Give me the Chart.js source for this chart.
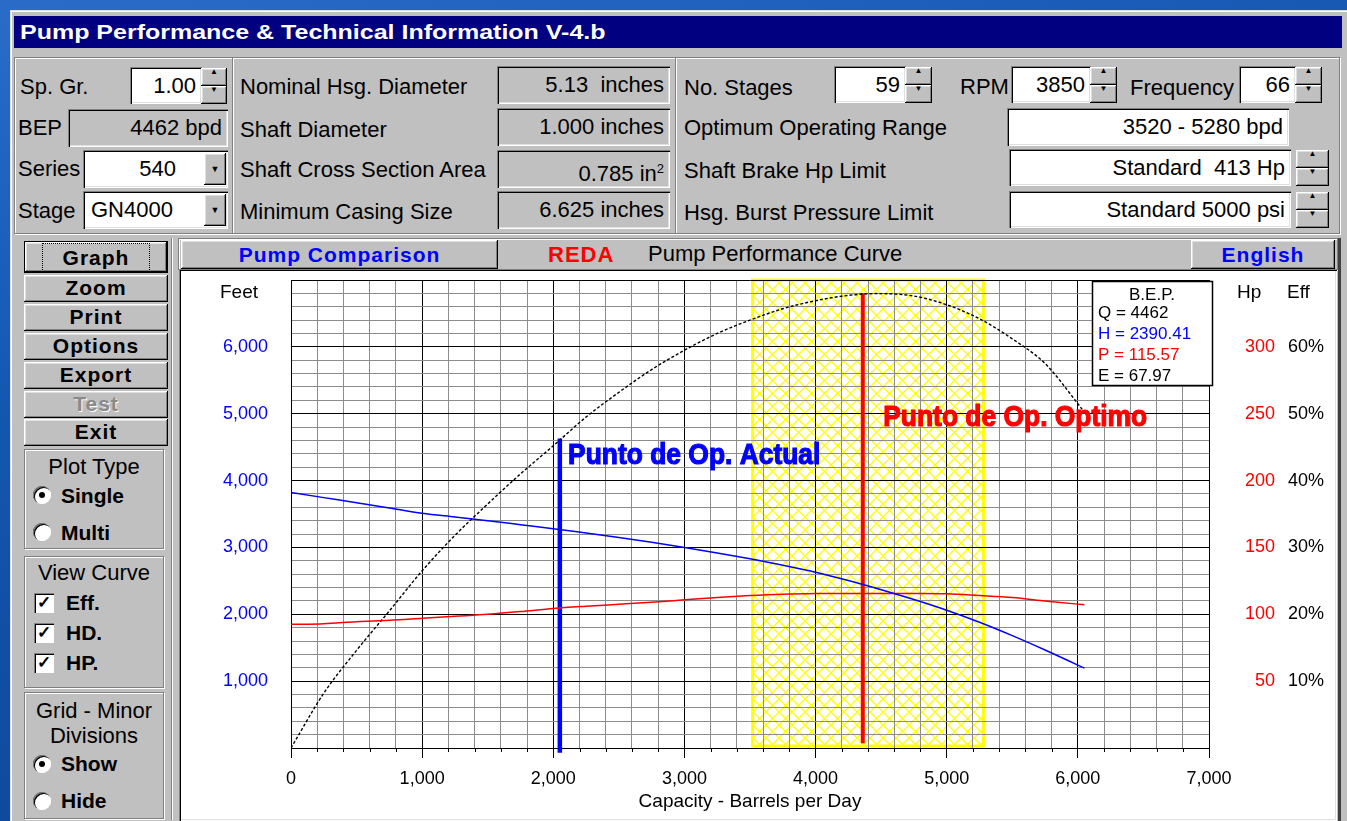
<!DOCTYPE html>
<html>
<head>
<meta charset="utf-8">
<script src="https://cdn.jsdelivr.net/npm/chart.js@4.4.0/dist/chart.umd.min.js"></script>
<style>
body{margin:0;width:1347px;height:821px;overflow:hidden;position:relative;
  background:linear-gradient(165deg,#2a6cc8 0%,#1456b0 35%,#0b3f8c 100%);
  font-family:Arial,"Liberation Sans",sans-serif;}
.a{position:absolute;box-sizing:border-box;white-space:nowrap}
.win{left:10px;top:10px;width:1337px;height:811px;background:#c0c0c0;
  box-shadow:inset 1px 1px #dfdfdf,inset 2px 2px #fff}
.title{left:14px;top:16px;width:1328px;height:32px;background:#000080}
.etch{border:1px solid #808080;box-shadow:1px 1px #fff,inset 1px 1px #fff}
.lbl{font-size:22px;line-height:24px;color:#000}
.fld{background:#fff;font-size:22px;text-align:right;padding-right:6px;
  box-shadow:inset 1px 1px #808080,inset 2px 2px #000,inset -1px -1px #fff,inset -2px -2px #dfdfdf}
.fld.g{background:#c0c0c0}
.btn{background:#c0c0c0;
  box-shadow:inset -1px -1px #000,inset 1px 1px #fff,inset -2px -2px #808080,inset 2px 2px #dfdfdf}
.spin div{position:absolute;left:0;width:100%;height:50%;font-size:8px;line-height:100%;text-align:center;box-sizing:border-box}
.lb{font-weight:bold;font-size:21px;letter-spacing:1px;text-align:center;line-height:26px}
.radio{width:18px;height:18px;border-radius:50%;background:#fff;
  box-shadow:inset 1px 1px #808080,inset 2px 2px #000,inset -1px -1px #fff}
.radio.on::after{content:"";position:absolute;left:6px;top:6px;width:6px;height:6px;border-radius:50%;background:#000}
.chk{width:20px;height:20px;background:#fff;font-size:17px;line-height:20px;text-align:center;font-weight:bold;
  box-shadow:inset 1px 1px #808080,inset 2px 2px #000,inset -1px -1px #fff}
.bt{font-weight:bold;font-size:21px;line-height:24px}
</style>
</head>
<body>
<div class="a win"></div>
<div class="a title"></div>
<div class="a" style="left:20px;top:19px;color:#fff;font-weight:bold;font-size:21px;line-height:26px;transform:scaleX(1.19);transform-origin:left">Pump Performance &amp; Technical Information V-4.b</div>

<!-- top group -->
<div class="a etch" style="left:14px;top:57px;width:1326px;height:177px"></div>
<div class="a" style="left:232px;top:58px;width:2px;height:175px;border-left:1px solid #808080;border-right:1px solid #fff"></div>
<div class="a" style="left:675px;top:58px;width:2px;height:175px;border-left:1px solid #808080;border-right:1px solid #fff"></div>

<div class="a lbl" style="left:20px;top:75px">Sp. Gr.</div>
<div class="a fld" style="left:130px;top:67px;width:72px;height:37px;line-height:37px">1.00</div>
<div class="a spin" style="left:201px;top:68px;width:26px;height:36px"><div class="btn" style="top:0">&#9650;</div><div class="btn" style="top:50%">&#9660;</div></div>
<div class="a lbl" style="left:18px;top:116px">BEP</div>
<div class="a fld g" style="left:68px;top:109px;width:160px;height:38px;line-height:38px">4462 bpd</div>
<div class="a lbl" style="left:18px;top:157px">Series</div>
<div class="a fld" style="left:83px;top:150px;width:145px;height:38px;line-height:38px;padding-right:52px">540</div>
<div class="a btn" style="left:204px;top:153px;width:22px;height:32px;font-size:9px;line-height:32px;text-align:center">&#9660;</div>
<div class="a lbl" style="left:18px;top:199px">Stage</div>
<div class="a fld" style="left:83px;top:191px;width:145px;height:38px;line-height:38px;text-align:left;padding-left:8px">GN4000</div>
<div class="a btn" style="left:204px;top:194px;width:22px;height:32px;font-size:9px;line-height:32px;text-align:center">&#9660;</div>

<div class="a lbl" style="left:240px;top:75px">Nominal Hsg. Diameter</div>
<div class="a fld g" style="left:497px;top:66px;width:173px;height:38px;line-height:38px">5.13&nbsp; inches</div>
<div class="a lbl" style="left:240px;top:118px">Shaft Diameter</div>
<div class="a fld g" style="left:497px;top:108px;width:173px;height:38px;line-height:38px">1.000 inches</div>
<div class="a lbl" style="left:240px;top:158px">Shaft Cross Section Area</div>
<div class="a fld g" style="left:497px;top:150px;width:173px;height:38px;line-height:38px">0.785 in<sup style="font-size:13px">2</sup></div>
<div class="a lbl" style="left:240px;top:200px">Minimum Casing Size</div>
<div class="a fld g" style="left:497px;top:191px;width:173px;height:38px;line-height:38px">6.625 inches</div>

<div class="a lbl" style="left:684px;top:76px">No. Stages</div>
<div class="a fld" style="left:834px;top:66px;width:72px;height:37px;line-height:37px">59</div>
<div class="a spin" style="left:905px;top:67px;width:27px;height:36px"><div class="btn" style="top:0">&#9650;</div><div class="btn" style="top:50%">&#9660;</div></div>
<div class="a lbl" style="left:960px;top:75px">RPM</div>
<div class="a fld" style="left:1011px;top:66px;width:80px;height:37px;line-height:37px">3850</div>
<div class="a spin" style="left:1090px;top:67px;width:27px;height:36px"><div class="btn" style="top:0">&#9650;</div><div class="btn" style="top:50%">&#9660;</div></div>
<div class="a lbl" style="left:1130px;top:76px">Frequency</div>
<div class="a fld" style="left:1239px;top:66px;width:57px;height:37px;line-height:37px">66</div>
<div class="a spin" style="left:1295px;top:67px;width:27px;height:36px"><div class="btn" style="top:0">&#9650;</div><div class="btn" style="top:50%">&#9660;</div></div>

<div class="a lbl" style="left:684px;top:116px">Optimum Operating Range</div>
<div class="a fld" style="left:1007px;top:108px;width:282px;height:38px;line-height:38px">3520 - 5280 bpd</div>
<div class="a lbl" style="left:684px;top:159px">Shaft Brake Hp Limit</div>
<div class="a fld" style="left:1009px;top:149px;width:282px;height:37px;line-height:37px">Standard&nbsp; 413 Hp</div>
<div class="a spin" style="left:1296px;top:150px;width:33px;height:36px"><div class="btn" style="top:0">&#9650;</div><div class="btn" style="top:50%">&#9660;</div></div>
<div class="a lbl" style="left:684px;top:201px">Hsg. Burst Pressure Limit</div>
<div class="a fld" style="left:1009px;top:191px;width:282px;height:37px;line-height:37px">Standard 5000 psi</div>
<div class="a spin" style="left:1296px;top:192px;width:33px;height:36px"><div class="btn" style="top:0">&#9650;</div><div class="btn" style="top:50%">&#9660;</div></div>

<!-- left column -->
<div class="a" style="left:20px;top:238px;width:152px;height:582px;border-right:1px solid #808080;box-shadow:1px 0 #fff"></div>
<div class="a btn lb" style="left:24px;top:241px;width:144px;height:32px;line-height:32px;border:1px solid #000"><span style="outline:1px dotted #000;outline-offset:2px;padding:0 18px">Graph</span></div>
<div class="a btn lb" style="left:24px;top:275px;width:144px;height:27px">Zoom</div>
<div class="a btn lb" style="left:24px;top:304px;width:144px;height:27px">Print</div>
<div class="a btn lb" style="left:24px;top:333px;width:144px;height:27px">Options</div>
<div class="a btn lb" style="left:24px;top:362px;width:144px;height:27px">Export</div>
<div class="a btn lb" style="left:24px;top:391px;width:144px;height:27px;color:#8a8a8a;text-shadow:1px 1px #fff">Test</div>
<div class="a btn lb" style="left:24px;top:419px;width:144px;height:27px">Exit</div>

<div class="a etch" style="left:24px;top:449px;width:140px;height:100px"></div>
<div class="a lbl" style="left:24px;top:455px;width:140px;text-align:center">Plot Type</div>
<div class="a radio on" style="left:33px;top:486px"></div><div class="a bt" style="left:61px;top:484px">Single</div>
<div class="a radio" style="left:33px;top:523px"></div><div class="a bt" style="left:61px;top:521px">Multi</div>

<div class="a etch" style="left:24px;top:556px;width:140px;height:132px"></div>
<div class="a lbl" style="left:24px;top:561px;width:140px;text-align:center">View Curve</div>
<div class="a chk" style="left:34px;top:593px">&#10003;</div><div class="a bt" style="left:66px;top:591px">Eff.</div>
<div class="a chk" style="left:34px;top:623px">&#10003;</div><div class="a bt" style="left:66px;top:621px">HD.</div>
<div class="a chk" style="left:34px;top:653px">&#10003;</div><div class="a bt" style="left:66px;top:651px">HP.</div>

<div class="a etch" style="left:24px;top:692px;width:140px;height:127px"></div>
<div class="a lbl" style="left:24px;top:699px;width:140px;text-align:center">Grid - Minor</div>
<div class="a lbl" style="left:24px;top:724px;width:140px;text-align:center">Divisions</div>
<div class="a radio on" style="left:33px;top:755px"></div><div class="a bt" style="left:61px;top:752px">Show</div>
<div class="a radio" style="left:33px;top:792px"></div><div class="a bt" style="left:61px;top:789px">Hide</div>

<!-- header bar -->
<div class="a etch" style="left:178px;top:238px;width:1160px;height:32px"></div>
<div class="a btn" style="left:181px;top:240px;width:317px;height:29px;color:#0000ff;font-weight:bold;font-size:21px;letter-spacing:1px;line-height:29px;text-align:center">Pump Comparison</div>
<div class="a" style="left:548px;top:242px;color:#ff0000;font-weight:bold;font-size:22px;letter-spacing:1px;line-height:26px">REDA</div>
<div class="a lbl" style="left:648px;top:242px">Pump Performance Curve</div>
<div class="a btn" style="left:1191px;top:240px;width:144px;height:29px;color:#0000ff;font-weight:bold;font-size:21px;letter-spacing:1px;line-height:29px;text-align:center">English</div>

<!-- chart frame -->
<div class="a" style="left:179px;top:269px;width:1158px;height:552px;background:#fff;
  box-shadow:inset 1px 1px #808080,inset 2px 2px #000,inset -1px -1px #fff,inset -2px -2px #dfdfdf"></div>
<div class="a" style="left:1338px;top:238px;width:3px;height:583px;background:#404040"></div>
<canvas id="pump" class="a" width="1152" height="548" style="left:181px;top:270px"></canvas>

<script>
// pump curve (capacity in barrels per day)
const capacityBpd = [0, 250, 500, 750, 1000, 1250, 1500, 1750, 2000, 2250, 2500, 2750, 3000,
  3250, 3500, 3750, 4000, 4250, 4462, 4750, 5000, 5250, 5500, 5750, 6000, 6050];
const headFt = [3820, 3745, 3670, 3590, 3510, 3455, 3400, 3340, 3280, 3215, 3150, 3078, 3000,
  2918, 2830, 2735, 2630, 2505, 2390, 2220, 2060, 1880, 1680, 1465, 1240, 1195];
const brakeHp = [92.5, 93, 94.5, 95.5, 97, 98.5, 100, 102, 104.3, 106, 107.5, 109, 110.8,
  112.6, 114, 115, 115.5, 115.6, 115.57, 115.5, 115.3, 114, 112.5, 110, 107.6, 107.2];
const effPct = [0, 8.2, 14.6, 20.5, 26.5, 31.8, 36.5, 41, 45.2, 49.5, 53.2, 56.6, 59.5,
  62, 64, 65.7, 66.9, 67.7, 67.97, 67.6, 66.3, 64.2, 61.2, 57.5, 51.5, 50.2];

const operatingRange = [3520, 5280];
const actualOpQ = [2050, 2050];
const actualOpFt = [-70, 4630];
const optimoOpQ = [4360, 4360];
const optimoOpFt = [70, 6800];

const opLabels = ['Punto de Op. Actual', 'Punto de Op. Optimo'];
const opLabelQ = [2113, 4516];
const opLabelFt = [4250, 4820];
const opLabelColors = ['#0000ff', '#ff0000'];

const bepRows = ['B.E.P.', 'Q = 4462', 'H = 2390.41', 'P = 115.57', 'E = 67.97'];
const bepColors = ['#000', '#000', '#0000ff', '#ff0000', '#000'];

const xTickLabels = ['0', '1,000', '2,000', '3,000', '4,000', '5,000', '6,000', '7,000'];
const feetTickLabels = ['', '1,000', '2,000', '3,000', '4,000', '5,000', '6,000', ''];
const hpTickLabels = ['', '50', '100', '150', '200', '250', '300', ''];
const effTickLabels = ['', '10%', '20%', '30%', '40%', '50%', '60%', ''];

const FONT = 'Arial, "Liberation Sans", sans-serif';
Chart.defaults.font.family = FONT;

function pts(xs, ys) {
  return xs.map((x, i) => ({ x: x, y: ys[i] }));
}

function gridColor(ctx) {
  return ctx.tick && ctx.tick.value % 1000 === 0 ? '#000' : '#8c8c8c';
}

// fixed axis boxes so the plot sits where the screenshot has it
function fitY(w) {
  return s => { s.width = w; s.paddingTop = 0; s.paddingBottom = 0; };
}

// yellow cross hatch for the operating range
function hatch() {
  const c = document.createElement('canvas');
  c.width = 13; c.height = 13;
  const g = c.getContext('2d');
  g.fillStyle = '#fff';
  g.fillRect(0, 0, 13, 13);
  g.strokeStyle = '#ffff00';
  g.lineWidth = 1.3;
  g.beginPath();
  g.moveTo(0, 0); g.lineTo(13, 13);
  g.moveTo(13, 0); g.lineTo(0, 13);
  g.stroke();
  return c;
}

const rangePlugin = {
  id: 'range',
  beforeDraw(chart) {
    const ctx = chart.ctx, a = chart.chartArea, x = chart.scales.x;
    const x0 = x.getPixelForValue(operatingRange[0]);
    const x1 = x.getPixelForValue(operatingRange[1]);
    ctx.save();
    ctx.fillStyle = ctx.createPattern(hatch(), 'repeat');
    ctx.fillRect(x0, a.top, x1 - x0, a.bottom - a.top);
    ctx.strokeStyle = '#ffff00';
    ctx.lineWidth = 3;
    ctx.strokeRect(x0, a.top, x1 - x0, a.bottom - a.top - 2);
    ctx.restore();
  }
};

const notesPlugin = {
  id: 'notes',
  afterDraw(chart) {
    const ctx = chart.ctx, a = chart.chartArea;
    const x = chart.scales.x, y = chart.scales.y;
    ctx.save();
    // short minor ticks under the x axis
    ctx.strokeStyle = '#000';
    ctx.lineWidth = 1;
    for (let v = 200; v < 7000; v += 200) {
      if (v % 1000 === 0) continue;
      const px = Math.round(x.getPixelForValue(v)) + 0.5;
      ctx.beginPath();
      ctx.moveTo(px, a.bottom);
      ctx.lineTo(px, a.bottom + 4);
      ctx.stroke();
    }
    // axis titles on the side
    ctx.font = '19px ' + FONT;
    ctx.fillStyle = '#000';
    ctx.textBaseline = 'middle';
    ctx.textAlign = 'right';
    ctx.fillText('Feet', a.left - 33, a.top + 13);
    ctx.textAlign = 'left';
    ctx.fillText('Hp', a.right + 28, a.top + 13);
    ctx.fillText('Eff', a.right + 78, a.top + 13);
    // operating point labels
    ctx.font = 'bold 30px ' + FONT;
    ctx.textBaseline = 'alphabetic';
    ctx.textAlign = 'left';
    opLabels.forEach((t, i) => {
      ctx.save();
      ctx.translate(x.getPixelForValue(opLabelQ[i]), y.getPixelForValue(opLabelFt[i]));
      ctx.scale(0.88, 1);
      ctx.fillStyle = opLabelColors[i];
      ctx.strokeStyle = opLabelColors[i];
      ctx.lineWidth = 1.2;
      ctx.fillText(t, 0, 0);
      ctx.strokeText(t, 0, 0);
      ctx.restore();
    });
    // B.E.P. box
    const bx = a.right - 117, by = a.top + 1, bw = 120, bh = 104;
    ctx.fillStyle = '#fff';
    ctx.fillRect(bx, by, bw, bh);
    ctx.strokeStyle = '#000';
    ctx.lineWidth = 1.5;
    ctx.strokeRect(bx + 0.5, by + 0.5, bw, bh);
    ctx.font = '17px ' + FONT;
    ctx.textBaseline = 'middle';
    bepRows.forEach((t, i) => {
      ctx.fillStyle = bepColors[i];
      if (i === 0) {
        ctx.textAlign = 'center';
        ctx.fillText(t, bx + bw / 2, by + 14);
      } else {
        ctx.textAlign = 'left';
        ctx.fillText(t, bx + 6, by + 32 + (i - 1) * 21);
      }
    });
    ctx.restore();
  }
};

new Chart(document.getElementById('pump'), {
  type: 'line',
  data: {
    datasets: [
      { data: pts(capacityBpd, headFt), yAxisID: 'y', borderColor: '#0000ff', borderWidth: 1.5,
        pointRadius: 0, tension: 0.3, cubicInterpolationMode: 'monotone' },
      { data: pts(capacityBpd, brakeHp), yAxisID: 'yHp', borderColor: '#ff0000', borderWidth: 1.5,
        pointRadius: 0, tension: 0.3, cubicInterpolationMode: 'monotone' },
      { data: pts(capacityBpd, effPct), yAxisID: 'yEff', borderColor: '#000', borderWidth: 1.4,
        borderDash: [3, 2], pointRadius: 0, tension: 0.3, cubicInterpolationMode: 'monotone' },
      { data: pts(actualOpQ, actualOpFt), yAxisID: 'y', borderColor: '#0000ff', borderWidth: 4.5,
        pointRadius: 0, clip: false },
      { data: pts(optimoOpQ, optimoOpFt), yAxisID: 'y', borderColor: '#ff0000', borderWidth: 4,
        pointRadius: 0, clip: false }
    ]
  },
  options: {
    responsive: false,
    animation: false,
    devicePixelRatio: 1,
    layout: { padding: { top: 10, left: 0, right: 0, bottom: 0 } },
    plugins: { legend: { display: false }, tooltip: { enabled: false } },
    scales: {
      x: {
        type: 'linear', min: 0, max: 7000,
        afterFit: s => { s.height = 70; s.paddingLeft = 0; s.paddingRight = 0; },
        border: { color: '#000', width: 1 },
        grid: { color: gridColor, tickColor: c => c.tick.value % 1000 === 0 ? '#000' : 'rgba(0,0,0,0)', tickLength: 10 },
        ticks: {
          stepSize: 200, autoSkip: false, maxRotation: 0, padding: 10, color: '#000',
          font: { size: 18 },
          callback: v => (v % 1000 === 0 ? xTickLabels[v / 1000] : '')
        },
        title: { display: true, text: 'Capacity - Barrels per Day', color: '#000', font: { size: 19 },
          padding: { top: 0, bottom: 5 } }
      },
      y: {
        position: 'left', min: 0, max: 7000,
        afterFit: fitY(110),
        border: { color: '#000', width: 1 },
        grid: { color: gridColor, drawTicks: false },
        ticks: {
          stepSize: 200, autoSkip: false, padding: 23, color: '#0000ff',
          font: { size: 18 },
          callback: v => (v % 1000 === 0 ? feetTickLabels[v / 1000] : '')
        }
      },
      yHp: {
        position: 'right', min: 0, max: 350,
        afterFit: fitY(66),
        border: { display: false },
        grid: { drawOnChartArea: false, drawTicks: false },
        ticks: {
          stepSize: 50, autoSkip: false, padding: 0, color: '#ff0000', crossAlign: 'far',
          font: { size: 18 },
          callback: v => hpTickLabels[v / 50]
        }
      },
      yEff: {
        position: 'right', min: 0, max: 70,
        afterFit: fitY(58),
        border: { display: false },
        grid: { drawOnChartArea: false, drawTicks: false },
        ticks: {
          stepSize: 10, autoSkip: false, padding: 13, color: '#000',
          font: { size: 18 },
          callback: v => effTickLabels[v / 10]
        }
      }
    }
  },
  plugins: [rangePlugin, notesPlugin]
});
</script>
</body>
</html>
